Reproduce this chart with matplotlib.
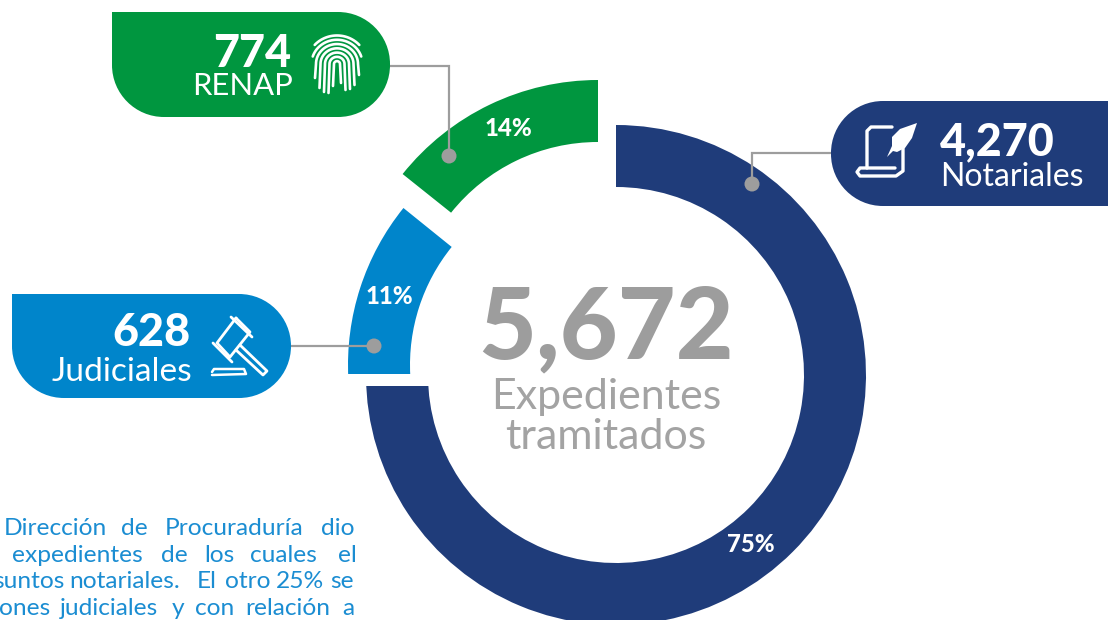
import numpy as np
import matplotlib
matplotlib.use('Agg')
import matplotlib.pyplot as plt
from matplotlib.path import Path
from matplotlib.patches import PathPatch, Circle

# data
categorias = ['Notariales', 'Judiciales', 'RENAP']
expedientes = ['4,270', '628', '774']
porcentajes = [75, 11, 14]
total = '5,672'
total_label = ['Expedientes', 'tramitados']

parrafo = [
    [('Dirección', 4), ('de', 121), ('Procuraduría', 165), ('dio', 321)],
    [('expedientes', 12), ('de', 161), ('los', 204), ('cuales', 250), ('el', 338)],
    [('suntos', -7), ('notariales.', 69), ('El', 197), ('otro', 225), ('25%', 276), ('se', 330)],
    [('ones', -1), ('judiciales', 60), ('y', 172), ('con', 195), ('relación', 245), ('a', 342)],
]

NAVY = '#1f3c7a'
CYAN = '#0085cb'
GREEN = '#00963f'
GRAY = '#9d9d9d'
H = 620

plt.rcParams['font.family'] = ['Lato', 'DejaVu Sans']

fig = plt.figure(figsize=(11.08, 6.2), dpi=100)
ax = fig.add_axes([0, 0, 1, 1])


def py(y):
    return H - y


def fs(px):
    return px * 0.72


# ring, each slice has its own centre
wedges, _ = ax.pie(porcentajes, colors=[NAVY, CYAN, GREEN], startangle=90, counterclock=False,
                   radius=250, wedgeprops=dict(width=62, linewidth=0))
wedges[0].set_center((616, py(375)))
wedges[1].set_center((598, py(365)))
wedges[2].set_center((598, py(330)))
wedges[1].set_theta2(wedges[1].theta2 + 3)  # bottom gets cut flat below
wedges[1].set_theta1(wedges[1].theta1 + 0.7)
wedges[2].set_theta2(wedges[2].theta2 + 1)

ax.set_xlim(0, 1108)
ax.set_ylim(0, H)
ax.set_aspect('auto')

blue_clip = Path([(616, py(100)), (900, py(100)), (900, py(650)), (340, py(650)),
                  (340, py(386)), (616, py(386)), (616, py(100))])
wedges[0].set_clip_on(True)
wedges[0].set_clip_path(blue_clip, ax.transData)
cyan_clip = Path([(330, py(190)), (470, py(190)), (470, py(374)), (330, py(374)), (330, py(190))])
wedges[1].set_clip_on(True)
wedges[1].set_clip_path(cyan_clip, ax.transData)


def bubble(x0, y0, x1, y1, r, sharp, color):
    # rounded box, one corner square. corners: tl tr br bl
    k = 0.5523 * r
    v = []
    c = []
    def corner(p_in, ctrl1, ctrl2, p_out, is_sharp, sharp_pt):
        if is_sharp:
            v.append(sharp_pt)
            c.append(Path.LINETO)
        else:
            v.extend([p_in, ctrl1, ctrl2, p_out])
            c.extend([Path.LINETO, Path.CURVE4, Path.CURVE4, Path.CURVE4])
    corner((x0, y0 + r), (x0, y0 + r - k), (x0 + r - k, y0), (x0 + r, y0), sharp == 'tl', (x0, y0))
    corner((x1 - r, y0), (x1 - r + k, y0), (x1, y0 + r - k), (x1, y0 + r), sharp == 'tr', (x1, y0))
    corner((x1, y1 - r), (x1, y1 - r + k), (x1 - r + k, y1), (x1 - r, y1), sharp == 'br', (x1, y1))
    corner((x0 + r, y1), (x0 + r - k, y1), (x0, y1 - r + k), (x0, y1 - r), sharp == 'bl', (x0, y1))
    c[0] = Path.MOVETO
    v.append(v[0])
    c.append(Path.CLOSEPOLY)
    v = [(a, py(b)) for a, b in v]
    ax.add_patch(PathPatch(Path(v, c), facecolor=color, edgecolor='none', zorder=3))


bubble(112, 12, 390, 117, 52, 'tl', GREEN)
bubble(831, 101, 1160, 206, 52, 'br', NAVY)
bubble(12, 294, 291, 398, 52, 'tl', CYAN)

# connectors
conectores = [
    ([390, 449, 449], [66, 66, 156]),
    ([831, 752, 752], [153, 153, 184]),
    ([291, 374], [346, 346]),
]
for xs, ys in conectores:
    ax.plot(xs, [py(y) for y in ys], color=GRAY, lw=1.6, zorder=2.5, solid_joinstyle='miter')
    ax.add_patch(Circle((xs[-1], py(ys[-1])), 7.5, facecolor=GRAY, edgecolor='none', zorder=4))


def line(xs, ys, lw=1.8):
    ax.plot(xs, [py(y) for y in ys], color='white', lw=lw, zorder=5,
            solid_capstyle='round', solid_joinstyle='round')


# fingerprint
cx, cy = 337, 64
for r, a0, a1 in [(30, 222, 318), (25.5, 198, 342), (21, 180, 360), (16.5, 180, 360), (12, 180, 360), (7.5, 180, 360), (3, 180, 360)]:
    t = np.radians(np.linspace(a0, a1, 40))
    xs = cx + r * np.cos(t)
    ys = cy + r * 0.95 * np.sin(t)
    if r <= 21:
        drop = {21: 14, 16.5: 24, 12: 28, 7.5: 29, 3: 22}[r]
        xs = np.concatenate([[cx - r - 1], xs, [cx + r + 1]])
        ys = np.concatenate([[cy + drop], ys, [cy + drop - 3]])
    line(xs, ys, 1.9)

# scroll + feather
line([867, 867, 871, 892], [168, 131, 127, 127], 2.4)
line([903, 903, 896, 860, 857, 860, 895], [146, 171, 176, 176, 172, 168, 168], 2.4)
feather = [(917, 123), (912, 138), (905, 148), (897, 152), (893, 151), (890, 154), (887, 157),
           (892, 146), (892, 137), (900, 129)]
ax.fill([p[0] for p in feather], [py(p[1]) for p in feather], color='white', lw=0, zorder=5)

# gavel
line([236, 250, 230, 217, 236], [318, 332, 357, 343, 318], 2.0)
line([231, 252], [317, 337], 2.0)
line([213, 232], [343, 362], 2.0)
line([240, 267, 263, 236], [345, 371, 375, 350], 2.0)
line([212, 214, 244, 246, 212], [372, 369, 369, 374, 375], 1.8)

# numbers in the bubbles
ax.text(291, py(67), expedientes[2], color='white', fontsize=fs(45), fontweight='black', ha='right', va='baseline', zorder=6)
ax.text(293, py(95), categorias[2], color='white', fontsize=fs(31), ha='right', va='baseline', zorder=6)
ax.text(940, py(155), expedientes[0], color='white', fontsize=fs(45), fontweight='black', ha='left', va='baseline', zorder=6)
ax.text(940, py(186), categorias[0], color='white', fontsize=fs(32), ha='left', va='baseline', zorder=6)
ax.text(191, py(346), expedientes[1], color='white', fontsize=fs(45), fontweight='black', ha='right', va='baseline', zorder=6)
ax.text(192, py(381), categorias[1], color='white', fontsize=fs(33.5), ha='right', va='baseline', zorder=6)

# percent labels
etiquetas_pos = [(751, 544), (389, 296), (508, 128)]
for p, (x, y) in zip(porcentajes, etiquetas_pos):
    ax.text(x, py(y), f'{p}%', color='white', fontsize=fs(24), fontweight='black', ha='center', va='center', zorder=6)

# centre
ax.text(606, py(358), total, color=GRAY, fontsize=fs(100), fontweight='black', ha='center', va='baseline', zorder=6)
ax.text(606, py(409), total_label[0], color='#a3a3a3', fontsize=fs(43), ha='center', va='baseline', zorder=6)
ax.text(606, py(449), total_label[1], color='#a3a3a3', fontsize=fs(43), ha='center', va='baseline', zorder=6)

# justified paragraph, cut by the page edge
for i, fila in enumerate(parrafo):
    for palabra, x in fila:
        ax.text(x, py(535 + i * 26.7), palabra, color='#1b8dd2', fontsize=fs(24.5), ha='left', va='baseline', zorder=6)

ax.axis('off')
fig.savefig('out.png', dpi=100)
